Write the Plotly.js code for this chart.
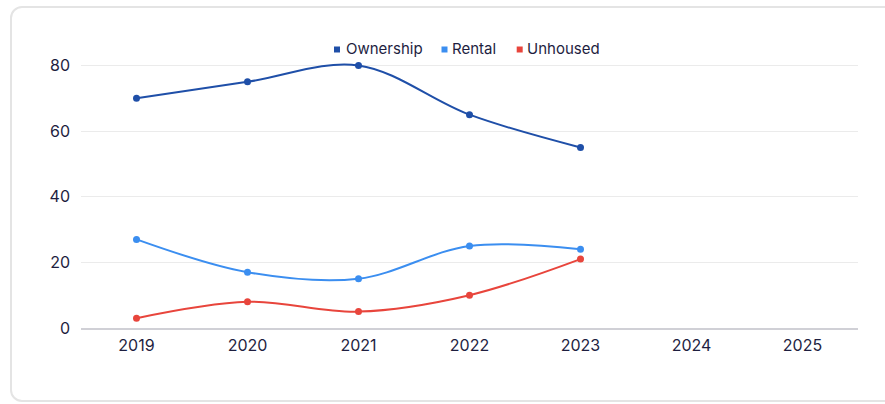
<!DOCTYPE html>
<html>
<head>
<meta charset="utf-8">
<script src="https://cdn.plot.ly/plotly-3.0.1.min.js"></script>
<style>
  html, body { margin: 0; padding: 0; background: #fff; width: 885px; height: 404px; overflow: hidden; }
  #card { position: absolute; left: 10px; top: 6px; width: 900px; height: 396px; border: 2px solid #e4e4e4; border-radius: 12px; box-sizing: border-box; }
  #chart { position: absolute; left: 0; top: 0; width: 885px; height: 404px; }
</style>
</head>
<body>
<div id="card"></div>
<div id="chart"></div>
<script>
const years = ['2019', '2020', '2021', '2022', '2023', '2024', '2025'];
const ownership = [70, 75, 80, 65, 55];
const rental = [27, 17, 15, 25, 24];
const unhoused = [3, 8, 5, 10, 21];
const seriesNames = ['Ownership', 'Rental', 'Unhoused'];
const seriesColors = ['#1f4fa8', '#3b8ef0', '#e8453c'];
const seriesData = [ownership, rental, unhoused];

// plot-area geometry (pixels)
const W = 885, H = 404, L = 81, R = 27, T = 49, B = 75.5;
const pw = W - L - R, ph = H - T - B;
const px = v => (v - L) / pw;
const py = v => (H - B - v) / ph;

const traces = [];
seriesData.forEach((vals, i) => {
  traces.push({
    x: years.slice(0, vals.length), y: vals, type: 'scatter', mode: 'lines+markers',
    name: seriesNames[i], showlegend: false, cliponaxis: false,
    line: { color: seriesColors[i], width: 2, shape: 'spline', smoothing: 1 },
    marker: { color: seriesColors[i], size: 7 },
    hoverinfo: 'x+y+name'
  });
});

// custom compact legend
const legendSquareX = [337, 444.5, 519.7];
const legendTextX = [344.5, 450.5, 525.5];
const legendY = 49.5;
const shapes = [], annotations = [];
seriesNames.forEach((n, i) => {
  shapes.push({ type: 'rect', xref: 'paper', yref: 'paper',
    x0: px(legendSquareX[i] - 3), x1: px(legendSquareX[i] + 3),
    y0: py(legendY + 3), y1: py(legendY - 3),
    fillcolor: seriesColors[i], line: { width: 0 } });
  annotations.push({ xref: 'paper', yref: 'paper', x: px(legendTextX[i]), y: py(legendY - 1),
    xanchor: 'left', yanchor: 'middle', text: n, showarrow: false, borderpad: 0,
    font: { size: 15, color: '#1e1e3f' } });
});

const layout = {
  width: W, height: H,
  margin: { l: L, r: R, t: T, b: B },
  paper_bgcolor: 'rgba(0,0,0,0)', plot_bgcolor: 'rgba(0,0,0,0)',
  font: { family: 'Inter, sans-serif', size: 16, color: '#1e1e3f' },
  showlegend: false,
  shapes: shapes, annotations: annotations,
  xaxis: { type: 'category', categoryorder: 'array', categoryarray: years,
           range: [-0.5, 6.5], showgrid: false, zeroline: false, showline: true,
           linecolor: '#d0d0d6', linewidth: 1.5, ticks: '', ticklabelstandoff: 2,
           tickfont: { size: 16 }, fixedrange: true },
  yaxis: { range: [0, 85], tickvals: [0, 20, 40, 60, 80], showgrid: true,
           gridcolor: '#ebebeb', gridwidth: 1, zeroline: false, showline: false,
           ticks: '', ticklabelstandoff: 10, tickfont: { size: 16 }, fixedrange: true }
};

Plotly.newPlot('chart', traces, layout, { displayModeBar: false });
</script>
</body>
</html>
